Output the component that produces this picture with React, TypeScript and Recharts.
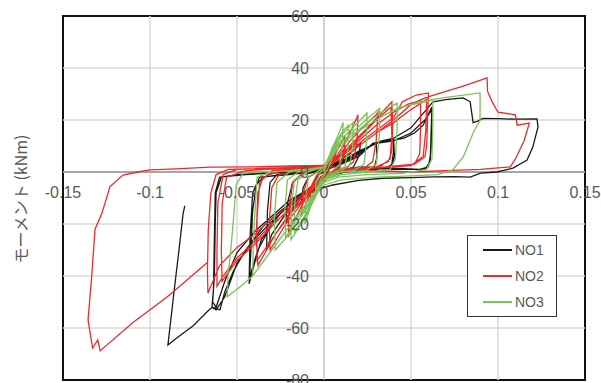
import { LineChart, Line, XAxis, YAxis, ReferenceLine, ReferenceDot, ReferenceArea } from 'recharts'

// axis ticks
const xTicks = [-0.15, -0.1, -0.05, 0, 0.05, 0.1, 0.15]
const xTickLabels = ['-0.15', '-0.1', '-0.05', '0', '0.05', '0.1', '0.15']
const yTicks = [60, 40, 20, 0, -20, -40, -60, -80]

// rotation (x) vs moment (kNm)
const no1: [number, number][] = [
  [0, 0], [0.004, 4], [0.006, 6], [0.005, 3], [0.002, 0], [-0.002, -2], [-0.005, -6], [-0.007, -8], [-0.006, -4], [-0.003, -1], [0, 0],
  [0.006, 4], [0.012, 9], [0.011, 5], [0.008, 1], [0.002, -1], [-0.004, -4], [-0.008, -7], [-0.013, -12], [-0.012, -6], [-0.009, -2], [-0.004, 0], [0, 1],
  [0.008, 4], [0.015, 7], [0.021, 11], [0.02, 6], [0.017, 2], [0.01, 0], [0.002, -2], [-0.006, -5], [-0.012, -9], [-0.02, -16], [-0.022, -20], [-0.021, -12], [-0.018, -4], [-0.013, -1], [-0.005, 0], [0, 1],
  [0.008, 3], [0.016, 6], [0.024, 9], [0.03, 11], [0.0305, 6], [0.029, 2], [0.022, 1], [0.01, 0], [0, -2], [-0.01, -7], [-0.02, -14], [-0.03, -24], [-0.033, -30], [-0.0325, -15], [-0.031, -4], [-0.027, -1], [-0.015, 0], [0, 1],
  [0.008, 3], [0.018, 6], [0.027, 10], [0.033, 12], [0.04, 13], [0.04, 8], [0.039, 3], [0.036, 1.5], [0.025, 1], [0.012, 0], [0.002, -2], [-0.008, -6], [-0.018, -11], [-0.028, -18], [-0.036, -26], [-0.042, -40], [-0.043, -43], [-0.042, -30], [-0.041, -15], [-0.039, -5], [-0.035, -2], [-0.025, -1], [-0.012, 0], [0, 1],
  [0.01, 3], [0.02, 6], [0.028, 11], [0.035, 12], [0.04, 12.5], [0.0405, 6], [0.039, 2], [0.03, 1], [0.015, 1], [0.003, -1], [-0.01, -7], [-0.02, -12], [-0.03, -20], [-0.038, -30], [-0.043, -41], [-0.0425, -25], [-0.041, -8], [-0.037, -2], [-0.02, -1], [0, 0.5],
  [0.01, 3], [0.02, 6], [0.028, 11], [0.038, 12], [0.046, 13], [0.052, 15], [0.057, 18], [0.062, 25], [0.062, 18], [0.0615, 8], [0.06, 2], [0.055, 1], [0.04, 1.5], [0.02, 2], [0.005, -1], [-0.01, -7], [-0.02, -11], [-0.03, -17], [-0.04, -23], [-0.05, -31], [-0.057, -42], [-0.062, -52], [-0.064, -50], [-0.063, -40], [-0.0625, -20], [-0.062, -8], [-0.059, -2], [-0.05, -1], [-0.03, 0], [-0.01, 0.5], [0, 1],
  [0.01, 4], [0.02, 8], [0.03, 11], [0.04, 12], [0.05, 15], [0.058, 20], [0.062, 24], [0.0615, 14], [0.061, 4], [0.058, 1], [0.04, 1], [0.02, 1.5], [0.005, -1], [-0.01, -8], [-0.02, -13], [-0.03, -19], [-0.04, -26], [-0.05, -35], [-0.057, -48], [-0.062, -53], [-0.0644, -52], [-0.0635, -45], [-0.063, -25], [-0.0625, -8], [-0.06, -2], [-0.045, -1], [-0.02, 0], [0, 0.5],
  [0.01, 4], [0.02, 8], [0.03, 11], [0.04, 13], [0.05, 17], [0.0626, 27], [0.07, 27.8], [0.08, 28.5], [0.084, 27], [0.0857, 19], [0.088, 19.5], [0.0914, 20.6], [0.1, 20.5], [0.11, 20.3], [0.1224, 20.4], [0.123, 17.3], [0.12, 9.6], [0.1167, 4.6], [0.1086, 1.5], [0.0994, 0], [0.09, -0.4], [0.084, -2], [0.075, -1.8], [0.063, -1.9], [0.05, -2.2], [0.034, -2.4], [0.02, -3.2], [0.005, -5],
  [-0.005, -7], [-0.015, -10], [-0.025, -15], [-0.035, -21], [-0.045, -30], [-0.052, -38], [-0.057, -46], [-0.0598, -53], [-0.064, -52], [-0.066, -53], [-0.075, -59], [-0.085, -64], [-0.0897, -66.5], [-0.086, -45], [-0.083, -28], [-0.081, -16], [-0.08, -13],
]

const no2: [number, number][] = [
  [0, 0], [0.004, 5], [0.007, 9], [0.006, 4], [0.003, 1], [-0.002, -2], [-0.005, -7], [-0.008, -11], [-0.007, -5], [-0.004, -1], [0, 1],
  [0.005, 5], [0.012, 14], [0.0115, 7], [0.009, 2], [0.004, 0], [-0.004, -4], [-0.009, -10], [-0.013, -17], [-0.012, -8], [-0.009, -2], [-0.004, 0], [0, 1.5],
  [0.006, 5], [0.012, 11], [0.019, 21], [0.0195, 22], [0.019, 12], [0.017, 4], [0.012, 1], [0.004, 0], [-0.005, -5], [-0.012, -12], [-0.0195, -22], [-0.0205, -25], [-0.02, -14], [-0.018, -4], [-0.012, 0], [0, 1.5],
  [0.008, 6], [0.015, 12], [0.022, 17], [0.03, 22], [0.031, 23], [0.03, 12], [0.028, 4], [0.022, 1], [0.01, 0.5], [0, -1], [-0.008, -7], [-0.015, -14], [-0.022, -20], [-0.031, -30], [-0.0315, -20], [-0.03, -6], [-0.026, -1], [-0.015, 0.5], [0, 2],
  [0.008, 5], [0.016, 11], [0.025, 17], [0.032, 22], [0.039, 27], [0.0395, 18], [0.039, 8], [0.037, 4], [0.03, 2], [0.015, 1.5], [0.002, -1], [-0.008, -8], [-0.018, -15], [-0.028, -24], [-0.038, -36], [-0.039, -25], [-0.038, -8], [-0.035, -2], [-0.025, 0.5], [-0.01, 1.5], [0, 2],
  [0.01, 6], [0.02, 13], [0.03, 20], [0.0385, 25], [0.039, 14], [0.038, 5], [0.032, 2], [0.015, 1], [0, -1], [-0.01, -9], [-0.02, -16], [-0.03, -26], [-0.0385, -34], [-0.0385, -18], [-0.037, -4], [-0.03, 0.5], [-0.01, 1.5], [0, 2],
  [0.01, 6], [0.02, 12], [0.03, 18], [0.04, 23], [0.048, 26], [0.0555, 27.5], [0.0555, 17], [0.055, 7], [0.052, 3], [0.04, 2], [0.02, 1.5], [0, -1], [-0.01, -8], [-0.02, -14], [-0.03, -21], [-0.04, -28], [-0.05, -34], [-0.0586, -42], [-0.059, -30], [-0.0585, -12], [-0.056, -2], [-0.045, 0.5], [-0.02, 1.5], [0, 2],
  [0.01, 6], [0.02, 11], [0.03, 16], [0.04, 21], [0.045, 27], [0.053, 29.6], [0.06, 30.4], [0.0595, 20], [0.059, 10], [0.058, 5.8], [0.052, 3], [0.035, 2], [0.015, 1.5], [0.002, -1], [-0.01, -8], [-0.02, -15], [-0.03, -20], [-0.04, -27], [-0.05, -33], [-0.058, -40], [-0.0615, -44], [-0.0615, -30], [-0.061, -12], [-0.058, -1], [-0.05, 1], [-0.03, 1.5], [-0.01, 2], [0, 2.5],
  [0.01, 5], [0.02, 10], [0.03, 15], [0.04, 19], [0.05, 24], [0.057, 27], [0.059, 28], [0.0585, 16], [0.057, 6], [0.05, 2.5], [0.03, 1.5], [0.01, 1], [0, -1], [-0.01, -7], [-0.02, -13], [-0.03, -18], [-0.04, -24], [-0.05, -29], [-0.06, -36], [-0.0667, -46.5], [-0.067, -38], [-0.0665, -22], [-0.065, -8], [-0.062, -1], [-0.055, 1], [-0.03, 1.5], [-0.01, 2], [0, 2.5],
  [0.01, 5], [0.02, 10], [0.03, 15], [0.04, 20], [0.05, 26], [0.058, 28.5], [0.07, 31], [0.08, 33], [0.0937, 36.2], [0.094, 31], [0.097, 26.5], [0.1, 23], [0.11, 22], [0.111, 18], [0.118, 18.8], [0.115, 12], [0.11, 5], [0.107, 2], [0.09, 1], [0.07, 0.5], [0.05, 0], [0.03, 0.5], [0.01, 1.5], [0, 2.5], [-0.02, 2.3], [-0.04, 2], [-0.0655, 1.9], [-0.085, 1.2], [-0.1, 0.8], [-0.107, 0], [-0.1155, -1.2], [-0.123, -5.6], [-0.1276, -15.8], [-0.1316, -22], [-0.1335, -40], [-0.1356, -57], [-0.133, -67.7], [-0.13, -64.6], [-0.1287, -68.8], [-0.11, -58], [-0.09, -48], [-0.0667, -34.6],
]

const no3: [number, number][] = [
  [0, 0], [0.003, 6], [0.005, 10], [0.0045, 5], [0.002, 1], [-0.002, -3], [-0.005, -9], [-0.0045, -4], [-0.002, 0], [0, 1],
  [0.004, 8], [0.008, 14], [0.011, 19], [0.0105, 10], [0.009, 3], [0.004, 0], [-0.002, -4], [-0.007, -12], [-0.011, -20], [-0.0105, -10], [-0.009, -2], [-0.004, 0], [0, 2],
  [0.005, 9], [0.01, 15], [0.014, 18], [0.0138, 9], [0.012, 2], [0.006, 0], [0, -3], [-0.006, -11], [-0.012, -19], [-0.019, -26], [-0.0188, -14], [-0.017, -3], [-0.01, 0], [0, 2],
  [0.005, 8], [0.01, 14], [0.0167, 19], [0.0165, 10], [0.015, 3], [0.009, 0], [0, -3], [-0.006, -10], [-0.012, -18], [-0.017, -23], [-0.0168, -12], [-0.015, -3], [-0.009, 0], [0, 2],
  [0.006, 9], [0.012, 14], [0.018, 18], [0.0247, 22.7], [0.0245, 12], [0.023, 3], [0.017, 0.5], [0.008, 0], [0, -3], [-0.007, -10], [-0.014, -18], [-0.022, -25], [-0.0225, -14], [-0.021, -3], [-0.015, 0], [0, 2],
  [0.008, 10], [0.016, 15], [0.024, 20], [0.032, 24.5], [0.0318, 14], [0.03, 3], [0.024, 0.5], [0.01, 0], [0, -3], [-0.01, -14], [-0.02, -24], [-0.028, -30], [-0.0285, -18], [-0.027, -4], [-0.02, 0], [0, 2],
  [0.008, 9], [0.016, 14], [0.025, 19], [0.033, 23], [0.042, 26.5], [0.042, 16], [0.041, 5], [0.038, 1], [0.025, 0], [0.01, -1], [0, -3], [-0.01, -12], [-0.02, -21], [-0.03, -30], [-0.041, -40], [-0.0405, -25], [-0.039, -8], [-0.0385, -2], [-0.03, 0], [-0.01, 1], [0, 2],
  [0.008, 9], [0.016, 14], [0.025, 18], [0.035, 22], [0.0437, 25], [0.055, 26.5], [0.0626, 27.7], [0.0625, 16], [0.062, 5], [0.059, 1], [0.045, -0.5], [0.025, -1], [0.008, -2], [0, -4], [-0.01, -12], [-0.02, -21], [-0.03, -30], [-0.041, -40], [-0.048, -44], [-0.0557, -48], [-0.055, -38], [-0.054, -33], [-0.052, -18], [-0.0505, -5], [-0.0466, -0.5], [-0.035, 0], [-0.015, 0.5], [0, 2],
  [0.008, 9], [0.016, 14], [0.025, 18], [0.035, 22], [0.045, 25], [0.055, 27], [0.068, 28.5], [0.0897, 30.4], [0.0897, 20], [0.0857, 15], [0.08, 5.8], [0.074, 0.8], [0.065, -1], [0.05, -1.5], [0.03, -2], [0.01, -3], [0, -5], [-0.01, -13], [-0.02, -22],
]

const series = [
  { name: 'NO1', color: '#1a1a1a', points: no1 },
  { name: 'NO2', color: '#f02828', points: no2 },
  { name: 'NO3', color: '#7ac356', points: no3 },
]

const FONT = '"Liberation Sans", Arial, sans-serif'
const TEXT = '#595959'

export default function App() {
  return (
    <div style={{ position: 'absolute', left: 0, top: 0, width: 601, height: 383, background: '#fff' }}>
      <LineChart width={601} height={383} margin={{ top: 16, right: 16, bottom: 3, left: 63 }}>
        <XAxis type="number" dataKey="x" domain={[-0.15, 0.15]} ticks={xTicks} hide allowDataOverflow />
        <YAxis type="number" dataKey="y" domain={[-80, 60]} ticks={yTicks} hide allowDataOverflow />
        {xTicks.slice(1, -1).filter((t) => t !== 0).map((t) => (
          <ReferenceLine key={'vx' + t} x={t} stroke="#d9d9d9" strokeWidth={1.5} />
        ))}
        {yTicks.slice(1, -1).filter((t) => t !== 0).map((t) => (
          <ReferenceLine key={'hy' + t} y={t} stroke="#d9d9d9" strokeWidth={1.5} />
        ))}
        <ReferenceLine x={0} stroke="#b4b4b4" strokeWidth={1.2} />
        <ReferenceLine y={0} stroke="#a6a6a6" strokeWidth={2} />
        {series.map((s) => (
          <Line
            key={s.name}
            data={s.points.map(([x, y]) => ({ x, y }))}
            dataKey="y"
            name={s.name}
            type="linear"
            stroke={s.color}
            strokeWidth={1.3}
            dot={false}
            activeDot={false}
            isAnimationActive={false}
          />
        ))}
        {xTicks.map((t, i) => (
          <ReferenceDot
            key={'xl' + t}
            x={t}
            y={0}
            r={0}
            fill="none"
            stroke="none"
            label={({ viewBox }: any) => (
              <text x={viewBox.x + viewBox.width / 2} y={viewBox.y + 26} textAnchor="middle" fill={TEXT} fontSize={16} fontFamily={FONT}>
                {xTickLabels[i]}
              </text>
            )}
          />
        ))}
        {yTicks.map((t) => (
          <ReferenceDot
            key={'yl' + t}
            x={0}
            y={t}
            r={0}
            fill="none"
            stroke="none"
            label={({ viewBox }: any) => (
              <text x={viewBox.x - 15} y={viewBox.y + 6} textAnchor="end" fill={TEXT} fontSize={16} fontFamily={FONT}>
                {t}
              </text>
            )}
          />
        ))}
        <ReferenceArea x1={-0.15} x2={0.15} y1={-80} y2={60} fill="none" stroke="#111" strokeWidth={2} />
      </LineChart>

      {/* legend box */}
      <div
        style={{
          position: 'absolute',
          left: 467,
          top: 235,
          width: 88,
          border: '1.5px solid #333',
          background: '#fff',
          padding: '1px 0',
          fontFamily: FONT,
        }}
      >
        {series.map((s) => (
          <div key={s.name} style={{ display: 'flex', alignItems: 'center', height: 26 }}>
            <div style={{ width: 29, height: 1.5, background: s.color, marginLeft: 15, marginRight: 3 }} />
            <span style={{ fontSize: 14, color: TEXT }}>{s.name}</span>
          </div>
        ))}
      </div>

      <div
        style={{
          position: 'absolute',
          left: 20,
          top: 199,
          transform: 'translate(-50%, -50%) rotate(-90deg)',
          whiteSpace: 'nowrap',
          fontSize: 16,
          color: TEXT,
          fontFamily: '"Noto Sans CJK JP", ' + FONT,
        }}
      >
        モーメント (kNm)
      </div>
    </div>
  )
}
